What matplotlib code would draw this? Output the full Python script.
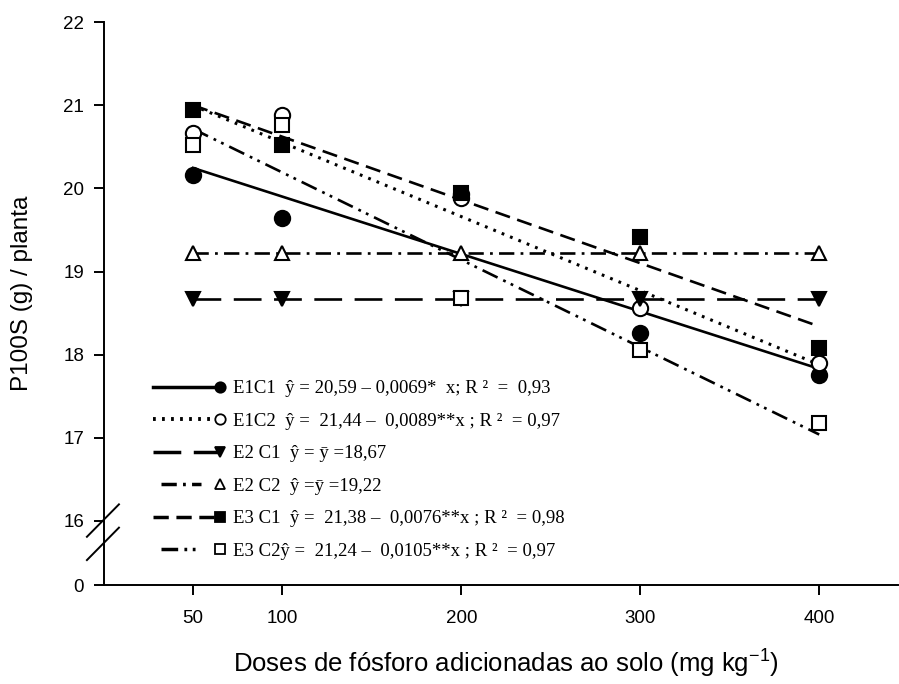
import numpy as np
import matplotlib.pyplot as plt
from matplotlib.lines import Line2D
from matplotlib.legend_handler import HandlerLine2D

plt.rcParams['font.family'] = ['Liberation Sans', 'DejaVu Sans']
plt.rcParams['mathtext.default'] = 'regular'
plt.rcParams['lines.scale_dashes'] = False

doses = [50, 100, 200, 300, 400]

e1c1 = [20.16, 19.64, 19.93, 18.26, 17.76]
e1c2 = [20.67, 20.88, 19.88, 18.56, 17.90]
e2c1 = [18.67, 18.67, 18.67, 18.67, 18.67]
e2c2 = [19.22, 19.22, 19.22, 19.22, 19.22]
e3c1 = [20.94, 20.52, 19.94, 19.42, 18.08]
e3c2 = [20.52, 20.76, 18.68, 18.06, 17.18]

# fitted equations from the legend: y = a + b*x (b = 0 -> mean)
intercepts = [20.59, 21.44, 18.67, 19.22, 21.38, 21.24]
slopes = [-0.0069, -0.0089, 0.0, 0.0, -0.0076, -0.0105]

labels = [
    'E1C1  ŷ = 20,59 – 0,0069*  x; R ²  =  0,93',
    'E1C2  ŷ =  21,44 –  0,0089**x ; R ²  = 0,97',
    'E2 C1  ŷ = ȳ =18,67',
    'E2 C2  ŷ =ȳ =19,22',
    'E3 C1  ŷ =  21,38 –  0,0076**x ; R ²  = 0,98',
    'E3 C2ŷ =  21,24 –  0,0105**x ; R ²  = 0,97',
]

series = [e1c1, e1c2, e2c1, e2c2, e3c1, e3c2]
markers = ['o', 'o', 'v', '^', 's', 's']
filled = [True, False, True, False, True, False]
msizes = [11, 11, 10, 10, 10, 10]
dashes = [None, (2, 4.5), (20, 9), (11, 4.5, 2, 4.5), (11, 5.5), (12, 4.5, 2, 4, 2, 4.5)]
widths = [1.9, 2.2, 1.9, 1.9, 1.9, 1.9]
gaps = [0, 0, 0, 14, 0, 14]


class EndMarker(HandlerLine2D):
    # marker at the right end of the sample line, like SigmaPlot does
    def __init__(self, gap=0, **kw):
        super().__init__(**kw)
        self.gap = gap

    def create_artists(self, legend, orig_handle, xdescent, ydescent,
                       width, height, fontsize, trans):
        y = (height - ydescent) / 2
        x0 = -xdescent
        x1 = -xdescent + width
        line = Line2D([x0 + self.gap * 0.4, x1 - self.gap], [y, y])
        self.update_prop(line, orig_handle, legend)
        line.set_marker('None')
        mark = Line2D([x1], [y])
        self.update_prop(mark, orig_handle, legend)
        mark.set_linestyle('None')
        line.set_transform(trans)
        mark.set_transform(trans)
        return [line, mark]


fig = plt.figure(figsize=(8.99, 6.84), dpi=100)
ax = fig.add_axes([0.1152, 0.1447, 0.8836, 0.8231])

x_fit = np.array([doses[0], doses[-1]])
handles = []
handler_map = {}
for i, ys in enumerate(series):
    y_fit = intercepts[i] + slopes[i] * x_fit
    ln, = ax.plot(x_fit, y_fit, color='black', lw=widths[i], zorder=2)
    if dashes[i] is not None:
        ln.set_dashes(dashes[i])
    fc = 'black' if filled[i] else 'white'
    ax.plot(doses, ys, ls='none', marker=markers[i], ms=msizes[i],
            mfc=fc, mec='black', mew=1.5, zorder=3)

    h = Line2D([], [], color='black', lw=widths[i] + 0.6, marker=markers[i],
               ms=msizes[i] * 0.68, mfc=fc, mec='black', mew=1.3)
    if dashes[i] is not None:
        h.set_dashes(dashes[i])
    handles.append(h)
    handler_map[h] = EndMarker(gap=gaps[i])

leg = ax.legend(handles, labels, handler_map=handler_map, loc='upper left',
                bbox_to_anchor=(0.062, 0.364), frameon=False, borderpad=0,
                borderaxespad=0, handlelength=3.6, handletextpad=0.65,
                labelspacing=0.82,
                prop={'family': ['Liberation Serif', 'DejaVu Serif'], 'size': 13.5})

# broken y axis: lower part only holds the 0
y_bottom = 15.23
ax.set_xlim(0, 444)
ax.set_ylim(y_bottom, 22)
ax.set_xticks(doses)
ax.set_yticks([y_bottom, 16, 17, 18, 19, 20, 21, 22])
ax.set_yticklabels(['0', '16', '17', '18', '19', '20', '21', '22'])

for s in ['top', 'right']:
    ax.spines[s].set_visible(False)
for s in ['left', 'bottom']:
    ax.spines[s].set_linewidth(1.4)
ax.tick_params(direction='out', length=7, width=1.4, labelsize=13.5, pad=7)
ax.tick_params(axis='x', pad=11)

# break marks
for y0 in [15.81, 15.53]:
    ax.plot([-9.3, 8.6], [y0, y0 + 0.39], color='black', lw=1.4, clip_on=False)

ax.set_xlabel('Doses de fósforo adicionadas ao solo (mg kg$^{-1}$)',
              fontsize=18.5)
ax.xaxis.set_label_coords(0.507, -0.112)
ax.set_ylabel('P100S (g) / planta', fontsize=17.5)
ax.yaxis.set_label_coords(-0.089, 0.519)

fig.savefig('out.png', dpi=100)
